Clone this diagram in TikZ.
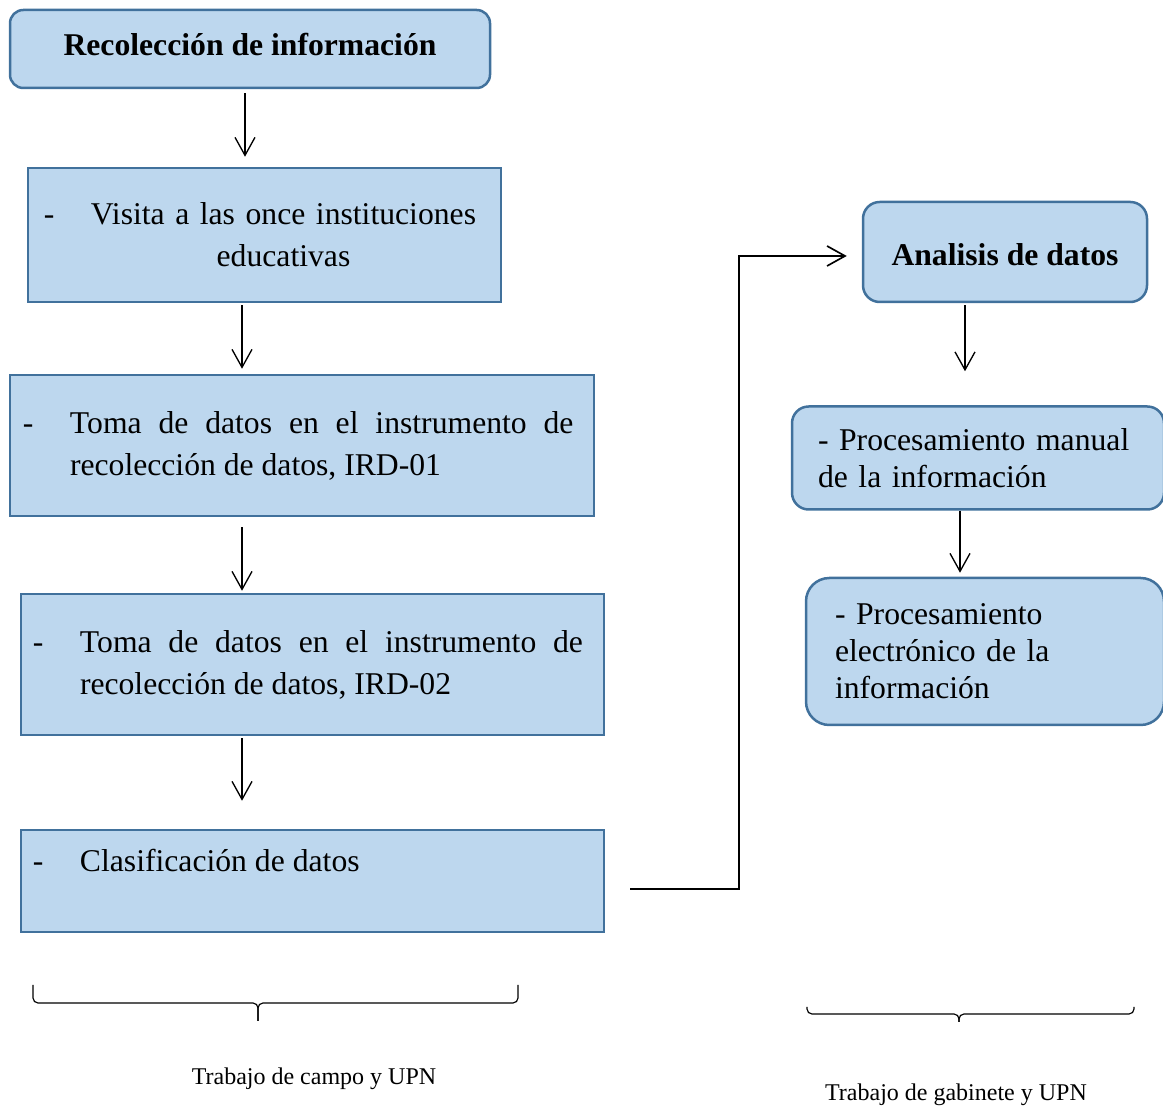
\documentclass[tikz,border=0pt]{standalone}
\usepackage{fontspec}
\setmainfont{Liberation Serif}
\usetikzlibrary{arrows.meta}
\definecolor{fondoazul}{HTML}{BDD7EE}
\definecolor{bordeazul}{HTML}{41719C}

\begin{document}
\begin{tikzpicture}[
        x=0.3pt, y=-0.3pt,
        squarebox/.style={draw=bordeazul, fill=fondoazul, line width=0.75pt, inner sep=0pt, font=\fontsize{9.5pt}{12.6pt}\selectfont},
        roundbox/.style={squarebox, rounded corners=5pt, font=\fontsize{9.5pt}{11.1pt}\selectfont},
        flecha/.style={-{Straight Barb[length=5.4pt,width=6pt]}, line width=0.4pt},
        llave/.style={line width=0.35pt, rounded corners=1.5pt},
        nota/.style={font=\fontsize{7.2pt}{8.6pt}\selectfont, inner sep=0pt},
        ]
        \useasboundingbox (0,0) rectangle (1163,1106);

        % Nodes
        \node[roundbox, minimum width=144pt, minimum height=23.4pt, rounded corners=4pt, text depth=3pt, font=\bfseries\fontsize{9.5pt}{11.1pt}\selectfont] (recoleccion) at (250,49) {Recolección de información};
        \node[squarebox, minimum width=141.9pt, minimum height=40.2pt, text width=141.9pt, align=center] (visita) at (264.5,235) {\noindent\hspace*{11.4pt}\llap{-\hspace{11pt}}Visita a las once instituciones\\\hspace*{11.4pt}educativas};
        \node[squarebox, minimum width=175.2pt, minimum height=42.3pt, text width=162.9pt, align=justify] (toma1) at (302,445.5) {\noindent\hspace*{11.85pt}\llap{-\hspace{11pt}}Toma de datos en el instrumento de\linebreak\hspace*{11.85pt}recolección de datos, IRD-01};
        \node[squarebox, minimum width=174.9pt, minimum height=42.3pt, text width=162.3pt, align=justify] (toma2) at (312.5,664.5) {\noindent\hspace*{11.4pt}\llap{-\hspace{11pt}}Toma de datos en el instrumento de\linebreak\hspace*{11.4pt}recolección de datos, IRD-02};
        \node[squarebox, minimum width=174.9pt, minimum height=30.6pt, text width=162.3pt, align=justify] (clasif) at (312.5,881) {\noindent\hspace*{11.4pt}\llap{-\hspace{11pt}}Clasificación de datos\\\mbox{}};

        \node[roundbox, minimum width=85.2pt, minimum height=30pt, text height=8.4pt, font=\bfseries\fontsize{9.5pt}{11.1pt}\selectfont] (analisis) at (1005,252) {Analisis de datos};
        \node[roundbox, minimum width=111.6pt, minimum height=30.9pt, text width=96pt, align=left] (manual) at (978,458) {- Procesamiento manual\\de la información};
        \node[roundbox, minimum width=107.4pt, minimum height=44.1pt, text width=90pt, align=left, rounded corners=7pt] (electronico) at (985,651.5) {- Procesamiento\\electrónico de la\\información};

        % Arrows
        \coordinate (ejeizq) at (242,0);
        \coordinate (ejeder) at (962,0);
        \coordinate (codo) at (739,256);
        \draw[flecha, shorten <=1.2pt, shorten >=3pt] (recoleccion.south -| 245,0) -- (visita.north -| 245,0);
        \draw[flecha, shorten <=0.6pt, shorten >=1.5pt] (visita.south -| ejeizq) -- (toma1.north -| ejeizq);
        \draw[flecha, shorten <=3pt, shorten >=0.6pt] (toma1.south -| ejeizq) -- (toma2.north -| ejeizq);
        \draw[flecha, shorten <=0.6pt, shorten >=8.4pt] (toma2.south -| ejeizq) -- (clasif.north -| ejeizq);
        \draw[flecha, line width=0.5pt, shorten <=7.5pt, shorten >=4.5pt] ([yshift=-2.4pt]clasif.east) -| (codo) -- (analisis.west |- codo);
        \draw[flecha, shorten <=0.6pt, shorten >=10.2pt] (analisis.south -| 965,0) -- (manual.north -| 965,0);
        \draw[flecha, shorten >=1.2pt] (manual.south -| 960,0) -- (electronico.north -| 960,0);

        % Braces
        \draw[llave] (33,985) -- (33,1003) -- (258,1003) -- (258,1021);
        \draw[llave] (518,985) -- (518,1003) -- (258,1003) -- (258,1021);
        \draw[llave] (807,1007) -- (807,1014) -- (959,1014) -- (959,1022);
        \draw[llave] (1134,1007) -- (1134,1014) -- (959,1014) -- (959,1022);
        \node[nota] (campo) at (314,1079) {Trabajo de campo y UPN};
        \node[nota] (gabinete) at (956,1095) {Trabajo de gabinete y UPN};

    \end{tikzpicture}
\end{document}
